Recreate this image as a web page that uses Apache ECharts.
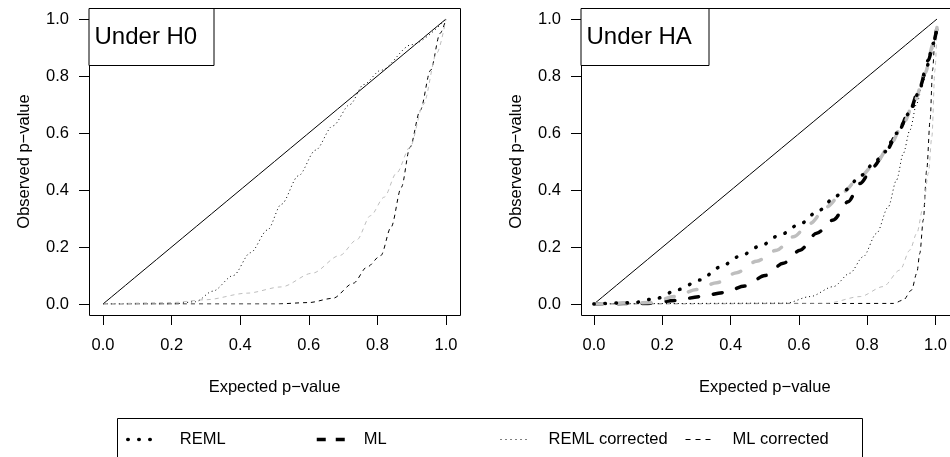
<!DOCTYPE html>
<html>
<head>
<meta charset="utf-8">
<title>p-value QQ</title>
<script src="https://cdn.jsdelivr.net/npm/echarts@6.0.0/dist/echarts.min.js"></script>
<style>
  html, body { margin: 0; padding: 0; background: #fff; }
  #main { width: 950px; height: 457px; }
</style>
</head>
<body>
<div id="main"></div>
<script>
// tick labels shared by all four axes
var ticks = [0, 0.2, 0.4, 0.6, 0.8, 1.0];

// reference diagonal
var diagX = [0, 1];
var diagY = [0, 1];

// ---- Under H0 ----
var h0RemlCorrX = [0, 0.2, 0.27, 0.32, 0.38, 0.43, 0.48, 0.52, 0.57, 0.62, 0.67, 0.72, 0.76, 0.81, 0.9, 1];
var h0RemlCorrY = [0, 0, 0.008, 0.045, 0.1, 0.18, 0.26, 0.35, 0.45, 0.54, 0.625, 0.7, 0.77, 0.82, 0.91, 1];
var h0GrayCorrX = [0, 0.2, 0.3, 0.42, 0.52, 0.61, 0.69, 0.74, 0.78, 0.82, 0.856, 0.895, 0.934, 0.973, 1];
var h0GrayCorrY = [0, 0.005, 0.015, 0.038, 0.06, 0.108, 0.17, 0.225, 0.31, 0.375, 0.46, 0.55, 0.7, 0.88, 1];
var h0MlCorrX = [0, 0.5, 0.6, 0.67, 0.73, 0.77, 0.81, 0.84, 0.87, 0.895, 0.925, 0.955, 0.983, 1];
var h0MlCorrY = [0, 0, 0.005, 0.02, 0.073, 0.13, 0.17, 0.27, 0.41, 0.55, 0.68, 0.82, 0.95, 1];

// ---- Under HA ----
var haRemlX = [0, 0.115, 0.183, 0.246, 0.309, 0.367, 0.426, 0.484, 0.542, 0.601, 0.654, 0.706, 0.732, 0.78, 0.82, 0.848, 0.882, 0.92, 0.946, 0.97, 0.99, 1];
var haRemlY = [0, 0.005, 0.02, 0.051, 0.084, 0.129, 0.168, 0.203, 0.242, 0.281, 0.327, 0.379, 0.4, 0.452, 0.5, 0.534, 0.599, 0.67, 0.74, 0.833, 0.915, 0.97];
var haGrayX = [0, 0.163, 0.236, 0.299, 0.358, 0.416, 0.474, 0.533, 0.581, 0.63, 0.678, 0.727, 0.776, 0.824, 0.863, 0.902, 0.936, 0.965, 0.99, 1];
var haGrayY = [0, 0.005, 0.026, 0.051, 0.075, 0.11, 0.15, 0.189, 0.236, 0.283, 0.341, 0.394, 0.447, 0.499, 0.558, 0.634, 0.716, 0.81, 0.915, 0.97];
var haMlX = [0, 0.15, 0.236, 0.309, 0.377, 0.44, 0.499, 0.552, 0.601, 0.649, 0.698, 0.741, 0.776, 0.814, 0.853, 0.887, 0.921, 0.95, 0.975, 0.99, 1];
var haMlY = [0, 0.002, 0.012, 0.026, 0.04, 0.063, 0.1, 0.143, 0.189, 0.248, 0.295, 0.359, 0.423, 0.482, 0.54, 0.605, 0.68, 0.762, 0.856, 0.92, 0.97];
var haRemlCorrX = [0, 0.56, 0.63, 0.698, 0.746, 0.785, 0.824, 0.858, 0.882, 0.902, 0.921, 0.941, 0.96, 0.98, 1];
var haRemlCorrY = [0, 0.003, 0.026, 0.061, 0.108, 0.166, 0.248, 0.341, 0.435, 0.529, 0.61, 0.704, 0.78, 0.87, 0.97];
var haGrayCorrX = [0, 0.68, 0.776, 0.843, 0.892, 0.921, 0.941, 0.96, 0.975, 0.985, 0.994, 1];
var haGrayCorrY = [0, 0.003, 0.026, 0.061, 0.119, 0.189, 0.248, 0.341, 0.459, 0.587, 0.82, 0.97];
var haMlCorrX = [0, 0.873, 0.902, 0.926, 0.941, 0.95, 0.96, 0.97, 0.98, 0.987, 0.995, 1];
var haMlCorrY = [0, 0.002, 0.014, 0.049, 0.108, 0.178, 0.295, 0.47, 0.646, 0.82, 0.95, 0.97];

var FONT = 'Liberation Sans, Arial, sans-serif';
var GRAY = '#bebebe';
var TICK = 10;   // outward tick length, px

function pairs(xs, ys) {
    var out = [];
    for (var i = 0; i < xs.length; i++) {
        out.push([xs[i], ys[i]]);
    }
    return out;
}

// data series live on grid 0 (H0) and grid 3 (HA)
function line(name, idx, xs, ys, color, width, dash, cap) {
    return {
        name: name,
        type: 'line',
        xAxisIndex: idx,
        yAxisIndex: idx,
        data: pairs(xs, ys),
        symbol: 'none',
        smooth: 0.3,
        smoothMonotone: 'x',
        silent: true,
        itemStyle: { color: color },
        lineStyle: { color: color, width: width, type: dash, cap: cap || 'butt' }
    };
}

function fmt(v) {
    return ticks.indexOf(v) >= 0 ? v.toFixed(1) : '';
}

function hidden(g) {
    return { type: 'value', gridIndex: g, min: 0, max: 1, show: false };
}

// invisible partner axis; its zero sits on the frame so the ticks hang outside it
function partner(g, lo) {
    return {
        type: 'value', gridIndex: g, min: lo, max: 1,
        axisLine: { show: false }, axisTick: { show: false },
        axisLabel: { show: false }, splitLine: { show: false }
    };
}

function xShown(g) {
    return {
        type: 'value', gridIndex: g, min: 0, max: 1, interval: 0.2,
        axisLine: { show: false },
        axisTick: { show: true, length: TICK, lineStyle: { color: '#000' } },
        splitLine: { show: false },
        axisLabel: { margin: 12, color: '#000', fontSize: 16.5, fontFamily: FONT, formatter: fmt },
        name: 'Expected p\u2212value', nameLocation: 'middle', nameGap: 54,
        nameTextStyle: { color: '#000', fontSize: 16.5, fontFamily: FONT }
    };
}

function yShown(g) {
    return {
        type: 'value', gridIndex: g, min: 0, max: 1, interval: 0.2,
        axisLine: { show: false },
        axisTick: { show: true, length: TICK, lineStyle: { color: '#000' } },
        splitLine: { show: false },
        axisLabel: { margin: 10, color: '#000', fontSize: 16.5, fontFamily: FONT, formatter: fmt },
        name: 'Observed p\u2212value', nameLocation: 'middle', nameGap: 46,
        nameTextStyle: { color: '#000', fontSize: 16.5, fontFamily: FONT }
    };
}

// one panel = data grid + x-tick grid + y-tick grid; R pads 4% round 0..1
function panelGrids(boxLeft, pad) {
    return [
        { left: boxLeft + pad, top: 19, width: 343, height: 285 },
        { left: boxLeft + pad, top: 19, width: 343, height: 296 + TICK },
        { left: boxLeft - TICK, top: 19, width: 343 + pad + TICK, height: 285 }
    ];
}

function axesFor(base, pad) {
    var xLo = -TICK / (343 + pad);   // puts x = 0 of the y-tick grid on the frame
    var yLo = -TICK / 296;           // puts y = 0 of the x-tick grid on the frame
    return {
        x: [hidden(base), xShown(base + 1), partner(base + 2, xLo)],
        y: [hidden(base), partner(base + 1, yLo), yShown(base + 2)]
    };
}

// one legend per entry so each sits where the R legend put it
function legendFor(name, left, w, gap, ls) {
    return {
        data: [name], left: left, top: 431, padding: 0,
        itemWidth: w, itemHeight: 14, selectedMode: false,
        itemStyle: { opacity: 0 },
        lineStyle: ls,
        textStyle: { color: '#000', fontSize: 16.5, fontFamily: FONT, padding: [0, 0, 0, gap] }
    };
}

function boxTitle(text, left, padR) {
    return {
        text: text, left: left, top: 8,
        padding: [17, padR, 17, 6],
        borderColor: '#000', borderWidth: 1, backgroundColor: '#fff',
        textStyle: { color: '#000', fontSize: 24, lineHeight: 24, fontWeight: 'normal', fontFamily: FONT }
    };
}

function frame(x, y, w, h) {
    return { type: 'rect', silent: true, shape: { x: x, y: y, width: w, height: h },
        style: { fill: 'none', stroke: '#000', lineWidth: 1 } };
}

var myChart = echarts.init(document.getElementById('main'), null, { renderer: 'canvas' });

var thickDot = [0.5, 10.5];
var thickDash = [9, 15];
var thinDot = [1, 3];
var thinDash = [4, 4];

var axH0 = axesFor(0, 14);
var axHA = axesFor(3, 13);

var option = {
    animation: false,
    backgroundColor: '#fff',
    title: [boxTitle('Under H0', 88.5, 17), boxTitle('Under HA', 580.5, 17)],
    grid: panelGrids(89, 14).concat(panelGrids(581, 13)),
    xAxis: axH0.x.concat(axHA.x),
    yAxis: axH0.y.concat(axHA.y),
    legend: [
        legendFor('REML', 126, 24, 23, { type: thickDot, width: 3.5, cap: 'round', color: '#000' }),
        legendFor('ML', 315, 28, 14, { type: [9, 10], width: 3.5, cap: 'butt', color: '#000' }),
        legendFor('REML corrected', 500, 27, 16, { type: [1, 4], width: 1, color: '#000' }),
        legendFor('ML corrected', 685, 25, 17, { type: [5, 5], width: 1, color: '#000' })
    ],
    series: [
        // Under H0
        line('diag', 0, diagX, diagY, '#000', 1, 'solid'),
        line('ML corrected', 0, h0MlCorrX, h0MlCorrY, '#000', 1, thinDash),
        line('gray corrected', 0, h0GrayCorrX, h0GrayCorrY, GRAY, 1, thinDash),
        line('REML corrected', 0, h0RemlCorrX, h0RemlCorrY, '#000', 1, thinDot),
        // Under HA
        line('diag', 3, diagX, diagY, '#000', 1, 'solid'),
        line('ML corrected', 3, haMlCorrX, haMlCorrY, '#000', 1, thinDash),
        line('gray corrected', 3, haGrayCorrX, haGrayCorrY, GRAY, 1, thinDash),
        line('REML corrected', 3, haRemlCorrX, haRemlCorrY, '#000', 1, thinDot),
        line('ML', 3, haMlX, haMlY, '#000', 3.5, thickDash, 'round'),
        line('gray', 3, haGrayX, haGrayY, GRAY, 3.5, thickDash, 'round'),
        line('REML', 3, haRemlX, haRemlY, '#000', 3.5, thickDot, 'round')
    ],
    // plot frames and the legend frame
    graphic: [
        frame(89.5, 8.5, 371, 307),
        frame(581.5, 8.5, 371, 307),
        frame(117.5, 418.5, 745, 60)
    ]
};

myChart.setOption(option);
</script>
</body>
</html>
